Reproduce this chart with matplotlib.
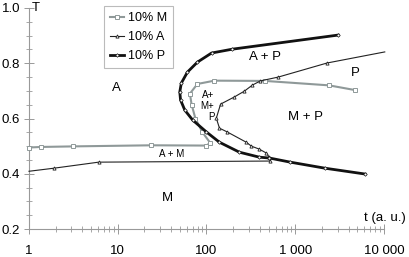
import matplotlib
matplotlib.use("Agg")
import matplotlib.pyplot as plt
from matplotlib.ticker import FixedLocator, FixedFormatter, LogLocator, NullFormatter, MultipleLocator

plt.rcParams['font.family'] = ['Liberation Sans', 'DejaVu Sans']

# 10% M (gray, open squares)
m_t = [1.0, 1.36, 3.1, 24, 100, 110, 90, 75, 68, 65, 79, 123, 460, 2400, 4700]
m_T = [0.495, 0.497, 0.499, 0.503, 0.502, 0.512, 0.55, 0.60, 0.65, 0.69, 0.725, 0.737, 0.736, 0.72, 0.703]

# 10% A (thin black, triangles)
a_t = [10200, 2290, 644, 405, 329, 267, 206, 144, 129, 140, 172, 281, 320, 394, 472, 510, 524, 6.1, 1.9, 1.0]
a_T = [0.841, 0.801, 0.75, 0.736, 0.721, 0.699, 0.678, 0.652, 0.601, 0.565, 0.551, 0.514, 0.50, 0.489, 0.475, 0.46, 0.446, 0.442, 0.420, 0.409]

# 10% P (thick black, diamonds)
p_t = [3040, 196, 114, 79, 61, 52, 50, 51, 57, 70, 100, 140, 235, 394, 510, 879, 2170, 6120]
p_T = [0.902, 0.851, 0.837, 0.804, 0.768, 0.728, 0.696, 0.667, 0.630, 0.594, 0.551, 0.514, 0.478, 0.46, 0.457, 0.442, 0.42, 0.399]

x_ticks = [1, 10, 100, 1000, 10000]
x_labels = ["1", "10", "100", "1 000", "10 000"]
y_ticks = [0.2, 0.4, 0.6, 0.8, 1.0]
y_labels = ["0.2", "0.4", "0.6", "0.8", "1.0"]

fig = plt.figure(figsize=(4.09, 2.57), dpi=100)
ax = fig.add_axes([29/409, 1-229/257, 355/409, 221/257])

ax.plot(m_t, m_T, color='#8f9999', lw=1.5, marker='s', ms=2.5, mfc='white', mec='#8f9999', mew=0.7,
        label='10% M', clip_on=False, zorder=3)
ax.plot(a_t, a_T, color='#222222', lw=0.8, marker='^', ms=2.3, mfc='white', mec='#222222', mew=0.6,
        label='10% A', clip_on=False, zorder=4, markevery=list(range(1, 19)))
ax.plot(p_t, p_T, color='#111111', lw=2.0, marker='D', ms=1.8, mfc='white', mec='#111111', mew=0.5,
        label='10% P', clip_on=False, zorder=5)

ax.set_xscale('log')
ax.set_xlim(1, 10000)
ax.set_ylim(0.2, 1.0)

ax.xaxis.set_major_locator(FixedLocator(x_ticks))
ax.xaxis.set_major_formatter(FixedFormatter(x_labels))
ax.xaxis.set_minor_locator(LogLocator(base=10, subs=range(2, 10)))
ax.xaxis.set_minor_formatter(NullFormatter())
ax.yaxis.set_major_locator(FixedLocator(y_ticks))
ax.yaxis.set_major_formatter(FixedFormatter(y_labels))
ax.yaxis.set_minor_locator(MultipleLocator(0.05))

for s in ['top', 'right']:
    ax.spines[s].set_visible(False)
for s in ['left', 'bottom']:
    ax.spines[s].set_color('#999999')
    ax.spines[s].set_linewidth(0.8)

ax.tick_params(axis='both', which='major', direction='inout', length=7, width=0.7, color='#999999',
               labelsize=9.5, labelcolor='black')
ax.tick_params(axis='both', which='minor', direction='inout', length=4, width=0.6, color='#999999')
ax.tick_params(axis='x', which='major', pad=8)
ax.tick_params(axis='y', which='major', pad=3)

fs = 9.5
ax.text(9.75, 0.71, "A", fontsize=fs, ha='center', va='center')
ax.text(460, 0.822, "A + P", fontsize=fs, ha='center', va='center')
ax.text(4720, 0.764, "P", fontsize=fs, ha='center', va='center')
ax.text(1295, 0.605, "M + P", fontsize=fs, ha='center', va='center')
ax.text(40.4, 0.471, "A + M", fontsize=7, ha='center', va='center')
ax.text(36.5, 0.312, "M", fontsize=fs, ha='center', va='center')
ax.text(122, 0.645, "A+\nM+\nP", fontsize=7, ha='right', va='center', linespacing=1.15)

fig.text(406/409, 1-218/257, "t (a. u.)", fontsize=fs, ha='right', va='center')
fig.text(32/409, 1-8/257, "T", fontsize=fs, ha='left', va='center')

leg = ax.legend(loc='upper left', bbox_to_anchor=(104/409, 1-6/257), bbox_transform=fig.transFigure,
                frameon=True, fancybox=False, fontsize=9, handlelength=1.1, handletextpad=0.3,
                labelspacing=0.55, borderpad=0.5, borderaxespad=0)
leg.get_frame().set_edgecolor('#aaaaaa')
leg.get_frame().set_linewidth(0.8)

fig.savefig("out.png", dpi=100)
